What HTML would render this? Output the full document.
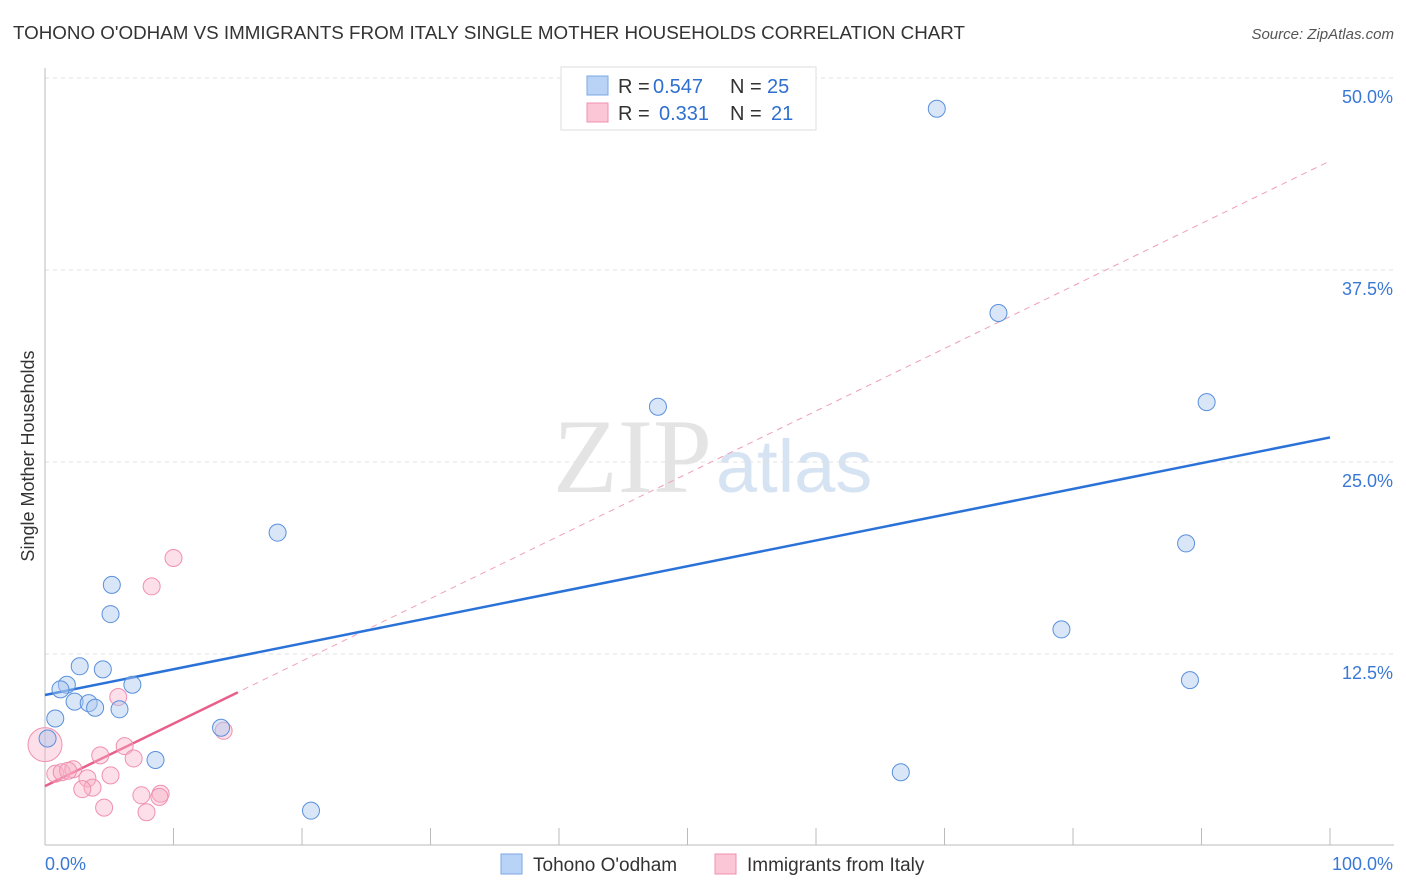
<!DOCTYPE html>
<html><head><meta charset="utf-8"><style>
body{margin:0;background:#fff;font-family:"Liberation Sans",sans-serif}
svg{display:block}
</style></head><body>
<svg id="chart" width="1406" height="892" xmlns="http://www.w3.org/2000/svg" font-family="Liberation Sans, sans-serif">
<text x="13" y="39" font-size="18" fill="#333" textLength="952" lengthAdjust="spacingAndGlyphs">TOHONO O'ODHAM VS IMMIGRANTS FROM ITALY SINGLE MOTHER HOUSEHOLDS CORRELATION CHART</text>
<text x="1394" y="39" font-size="15" font-style="italic" fill="#555" text-anchor="end">Source: ZipAtlas.com</text>
<text transform="translate(34,456) rotate(-90)" font-size="18" fill="#333" text-anchor="middle">Single Mother Households</text>
<g>
<text x="553" y="492" font-size="106" font-family="Liberation Serif, serif" fill="#e4e4e4">ZIP</text>
<text x="716" y="492" font-size="74" fill="#d6e3f3">atlas</text>
</g>
<g id="grid"></g><g id="axes"></g><g id="lines"></g><g id="pts"></g>
<g>
<rect x="561" y="67" width="255" height="63" fill="#fff" stroke="#ddd"/>
<rect x="587" y="76" width="21" height="19" fill="#b8d3f5" stroke="#7aa8e6"/>
<rect x="587" y="103" width="21" height="19" fill="#fbc7d6" stroke="#f08fb0"/>
<text x="618" y="93" font-size="20" fill="#333">R =</text>
<text x="653" y="93" font-size="20" fill="#2f6fd0">0.547</text>
<text x="730" y="93" font-size="20" fill="#333">N =</text>
<text x="767" y="93" font-size="20" fill="#2f6fd0">25</text>
<text x="618" y="120" font-size="20" fill="#333">R =</text>
<text x="659" y="120" font-size="20" fill="#2f6fd0">0.331</text>
<text x="730" y="120" font-size="20" fill="#333">N =</text>
<text x="771" y="120" font-size="20" fill="#2f6fd0">21</text>
</g>
<g>
<rect x="501" y="854" width="21" height="20" fill="#b8d3f5" stroke="#7aa8e6"/>
<text x="533" y="871" font-size="19" fill="#333">Tohono O'odham</text>
<rect x="715" y="854" width="21" height="20" fill="#fbc7d6" stroke="#f08fb0"/>
<text x="747" y="871" font-size="19" fill="#333">Immigrants from Italy</text>
</g>
</svg>
<script>
const yTicks=[12.5,25,37.5,50];
const yTickLabels=["12.5%","25.0%","37.5%","50.0%"];
const xTicks=[0,10,20,30,40,50,60,70,80,90,100];
const blueX=[69.4,74.2,47.7,90.4,18.1,88.8,79.1,89.1,66.6,20.7,5.2,5.1,2.7,4.5,1.7,1.2,6.8,2.3,3.4,3.9,5.8,0.8,13.7,8.6,0.2];
const blueY=[48.0,34.7,28.6,28.9,20.4,19.7,14.1,10.8,4.8,2.3,17.0,15.1,11.7,11.5,10.5,10.2,10.5,9.4,9.3,9.0,8.9,8.3,7.7,5.6,7.0];
const pinkX=[10.0,8.3,5.7,13.9,0,4.3,6.2,6.9,5.1,0.8,1.3,2.2,3.3,3.7,2.9,4.6,7.5,9.0,8.9,7.9,1.8];
const pinkY=[18.75,16.9,9.7,7.5,6.6,5.9,6.5,5.7,4.6,4.7,4.8,5.0,4.4,3.8,3.7,2.5,3.3,3.4,3.2,2.2,4.9];
const blueLine=[9.83,26.6];
const pinkLine=[3.9,44.6];
const pinkSolidEnd=15;
const NS="http://www.w3.org/2000/svg";
const X=v=>45+v*12.85, Y=v=>846-v*15.36;
function mk(t,a,p){const e=document.createElementNS(NS,t);for(const k in a)e.setAttribute(k,a[k]);document.getElementById(p).appendChild(e);return e;}
yTicks.forEach((t,i)=>{
 const g=mk('line',{x1:45,x2:1394,y1:Y(t),y2:Y(t),stroke:'#e2e2e2','stroke-dasharray':'4,4'},'grid');
 
 
 const l=mk('text',{x:1393,y:Y(t)+25,'font-size':18,fill:'#3a78d6','text-anchor':'end'},'axes');
 l.textContent=yTickLabels[i];
 
 
});
const ax=mk('line',{x1:45,x2:1394,y1:845,y2:845,stroke:'#bbb'},'axes');


const ay=mk('line',{x1:45,x2:45,y1:68,y2:845,stroke:'#bbb'},'axes');


xTicks.forEach(t=>{
 const e=mk('line',{x1:X(t),x2:X(t),y1:828,y2:845,stroke:'#bbb'},'axes');
 
 
});
const x0=mk('text',{x:45,y:870,'font-size':18,fill:'#3a78d6'},'axes');x0.textContent='0.0%';


const x1=mk('text',{x:1393,y:870,'font-size':18,fill:'#3a78d6','text-anchor':'end'},'axes');x1.textContent='100.0%';


const pd=mk('line',{x1:X(0),y1:Y(pinkLine[0]),x2:X(100),y2:Y(pinkLine[1]),stroke:'#f0a0b8','stroke-dasharray':'6,5','stroke-width':1},'lines');


const pyEnd=pinkLine[0]+(pinkLine[1]-pinkLine[0])*pinkSolidEnd/100;
const ps=mk('line',{x1:X(0),y1:Y(pinkLine[0]),x2:X(pinkSolidEnd),y2:Y(pyEnd),stroke:'#e8608a','stroke-width':2.5},'lines');


const bl=mk('line',{x1:X(0),y1:Y(blueLine[0]),x2:X(100),y2:Y(blueLine[1]),stroke:'#2a72d8','stroke-width':2.5},'lines');


pinkX.forEach((v,i)=>{
 const c=mk('circle',{cx:X(v),cy:Y(pinkY[i]),r:i===4?17:8.5,fill:'rgba(248,175,198,0.4)',stroke:'#f090b0','stroke-width':1},'pts');
 
 
});
blueX.forEach((v,i)=>{
 const c=mk('circle',{cx:X(v),cy:Y(blueY[i]),r:8.5,fill:'rgba(170,200,240,0.45)',stroke:'#5a90dc','stroke-width':1},'pts');
 
 
});
</script>
</body></html>
